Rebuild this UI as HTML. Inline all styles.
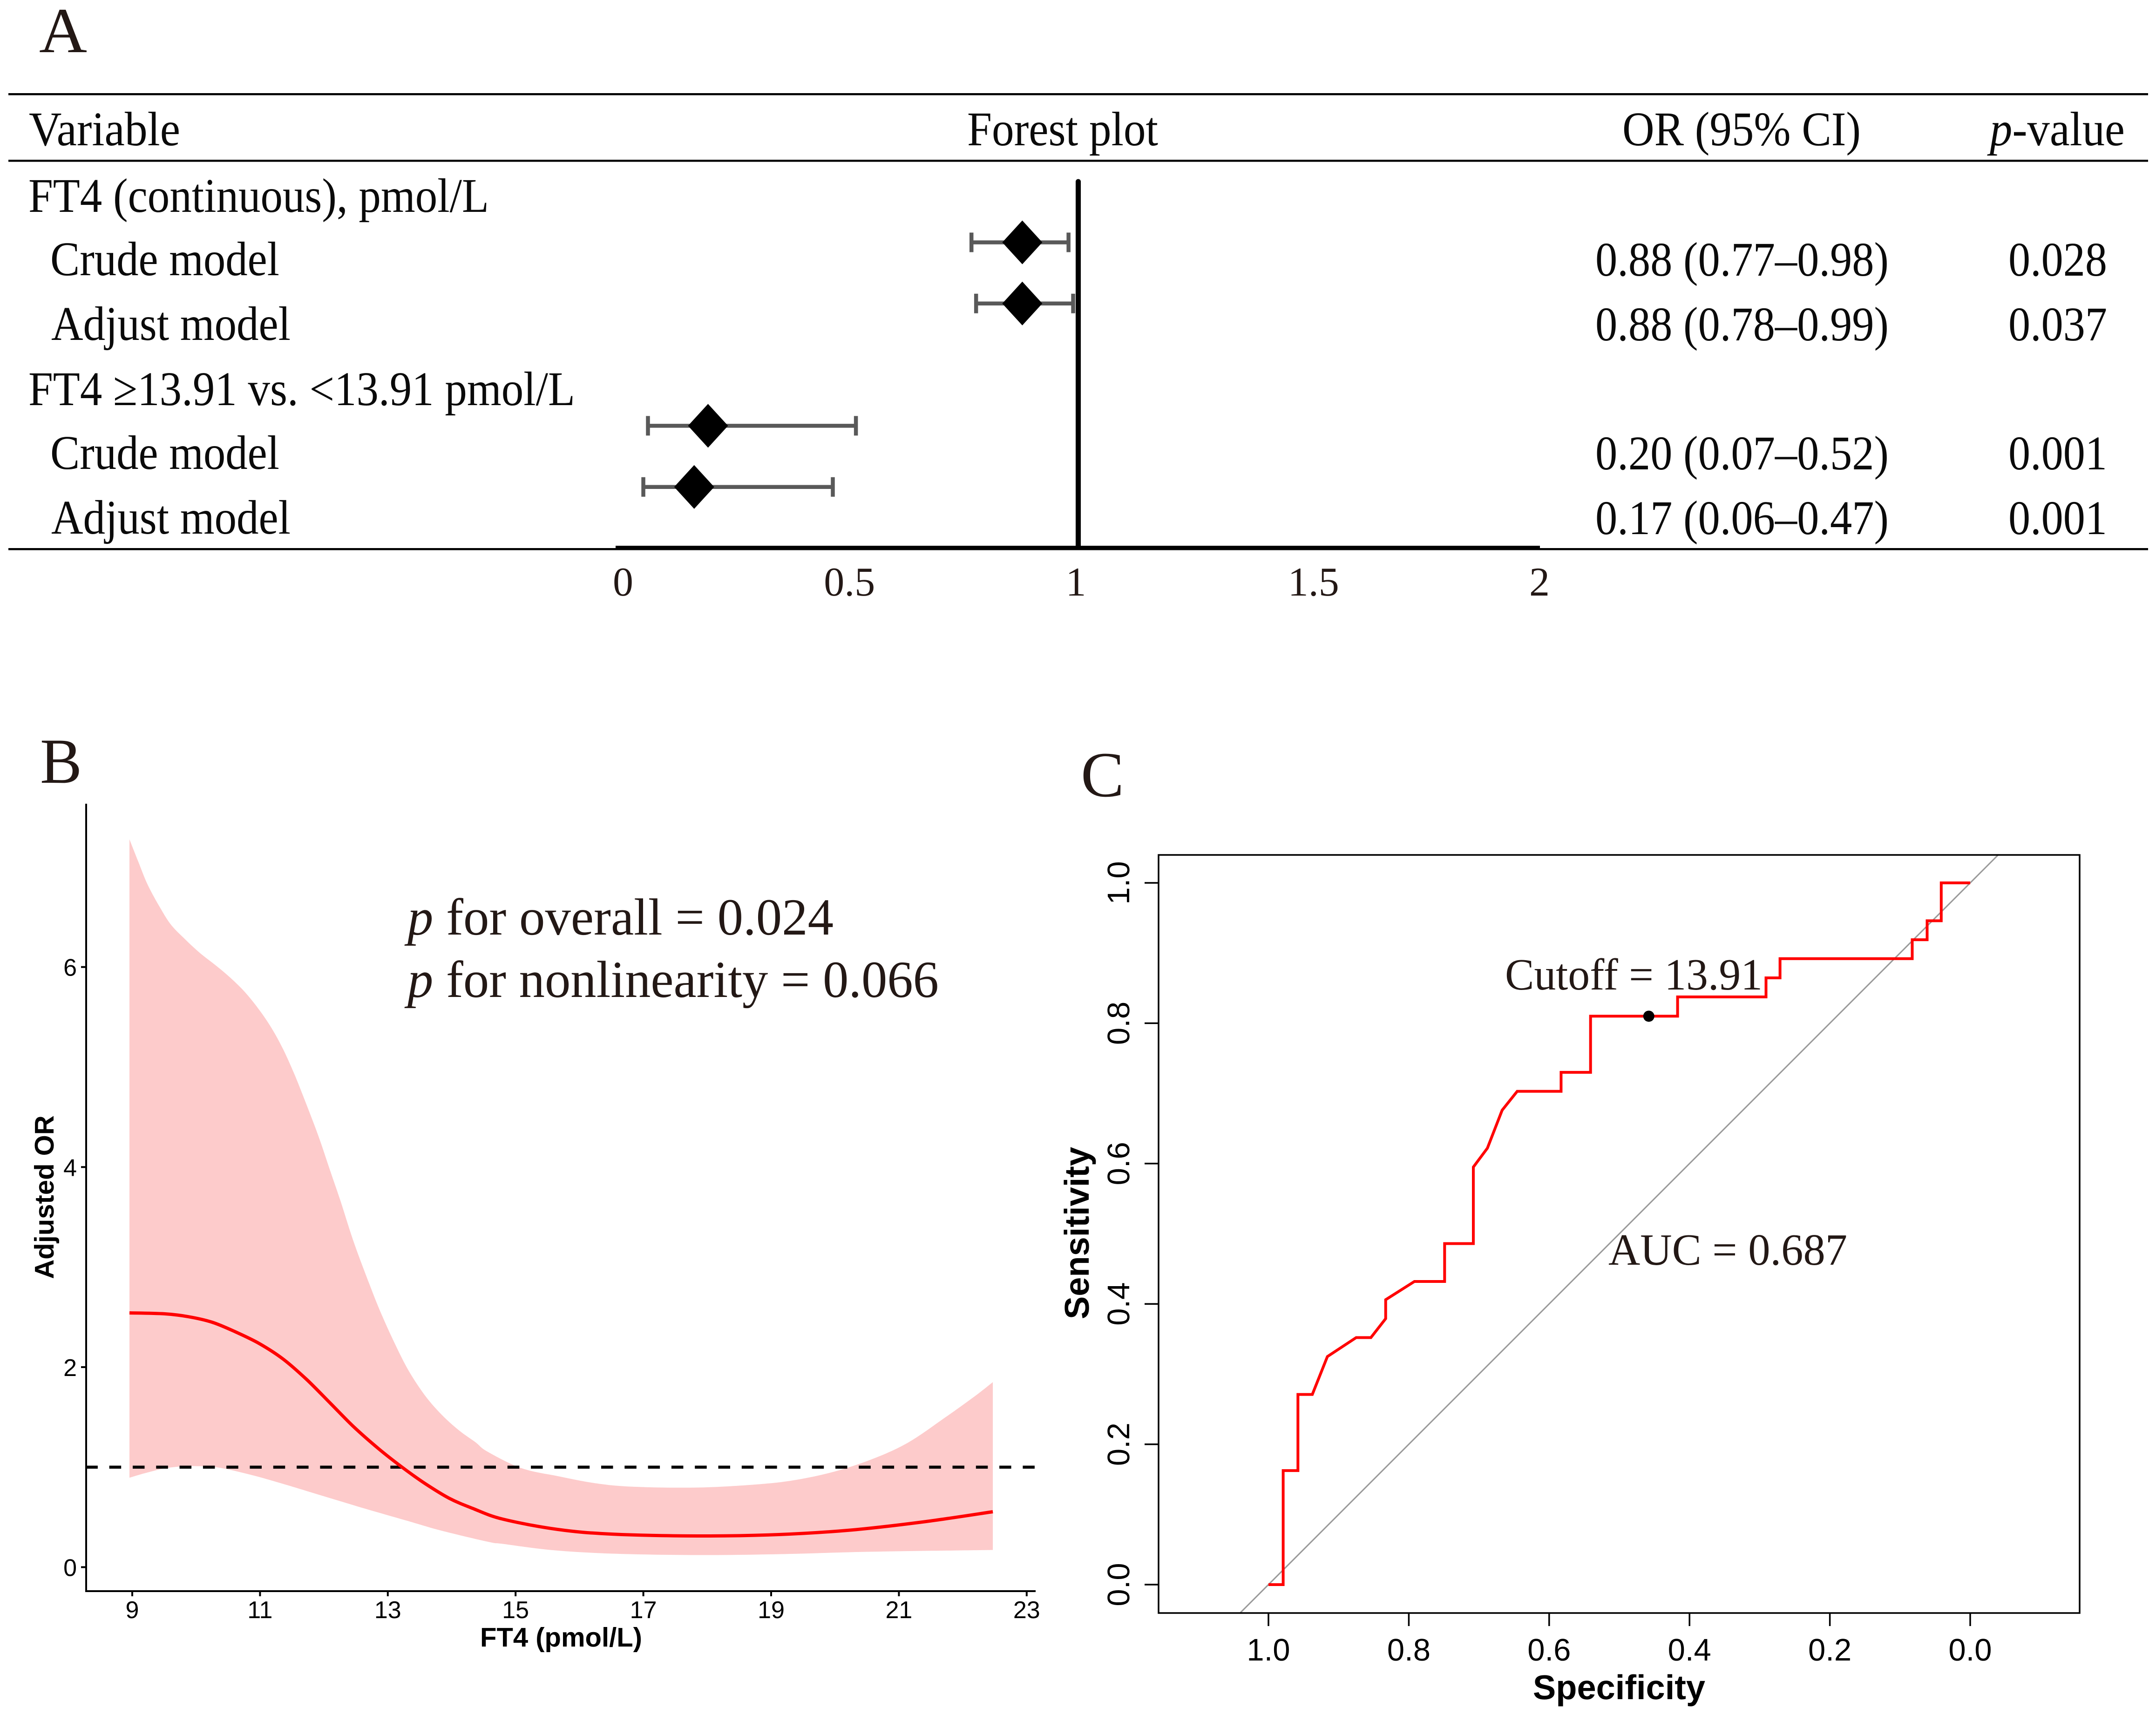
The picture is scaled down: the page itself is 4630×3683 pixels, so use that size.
<!DOCTYPE html>
<html><head><meta charset="utf-8"><title>FT4 forest plot, spline and ROC curve</title>
<style>
html,body{margin:0;padding:0;background:#fff}
svg{display:block}
text{font-family:"Liberation Serif",serif;fill:#000;text-rendering:geometricPrecision}
.t{font-size:104px;fill:#0a0a0a}
.s{font-family:"Liberation Sans",sans-serif}
.lab{font-size:138px;fill:#231815}
.ann{font-size:112px;fill:#231815}
.ann2{font-size:96px;fill:#231815}
</style></head>
<body>
<svg id="chart" xmlns="http://www.w3.org/2000/svg" width="4630" height="3683" viewBox="0 0 4630 3683">
<rect width="4630" height="3683" fill="#fff"/>
<text class="lab" x="84" y="112" textLength="103" lengthAdjust="spacingAndGlyphs">A</text>
<text class="lab" x="86" y="1681" textLength="90" lengthAdjust="spacingAndGlyphs">B</text>
<text class="lab" x="2321" y="1710" textLength="93" lengthAdjust="spacingAndGlyphs">C</text>

<g id="panelA">
<rect x="18" y="200" width="4595" height="4.5" fill="#000"/>
<rect x="18" y="343" width="4595" height="4.5" fill="#000"/>
<rect x="18" y="1177" width="4595" height="4.5" fill="#000"/>
<text class="t" x="62" y="312" textLength="325" lengthAdjust="spacingAndGlyphs">Variable</text>
<text class="t" x="2077" y="312" textLength="410" lengthAdjust="spacingAndGlyphs">Forest plot</text>
<text class="t" x="3484" y="312" textLength="512" lengthAdjust="spacingAndGlyphs">OR (95% CI)</text>
<text class="t" x="4273" y="312" textLength="290" lengthAdjust="spacingAndGlyphs"><tspan font-style="italic">p</tspan>-value</text>
<text class="t" x="61" y="455" textLength="989" lengthAdjust="spacingAndGlyphs">FT4 (continuous), pmol/L</text>
<text class="t" x="108" y="591" textLength="492" lengthAdjust="spacingAndGlyphs">Crude model</text>
<text class="t" x="110" y="730" textLength="514" lengthAdjust="spacingAndGlyphs">Adjust model</text>
<text class="t" x="61" y="870" textLength="1174" lengthAdjust="spacingAndGlyphs">FT4 ≥13.91 vs. &lt;13.91 pmol/L</text>
<text class="t" x="108" y="1007" textLength="492" lengthAdjust="spacingAndGlyphs">Crude model</text>
<text class="t" x="110" y="1146" textLength="514" lengthAdjust="spacingAndGlyphs">Adjust model</text>
<text class="t" x="3426" y="592" textLength="630" lengthAdjust="spacingAndGlyphs">0.88 (0.77–0.98)</text>
<text class="t" x="3426" y="731" textLength="630" lengthAdjust="spacingAndGlyphs">0.88 (0.78–0.99)</text>
<text class="t" x="3426" y="1008" textLength="630" lengthAdjust="spacingAndGlyphs">0.20 (0.07–0.52)</text>
<text class="t" x="3426" y="1147" textLength="630" lengthAdjust="spacingAndGlyphs">0.17 (0.06–0.47)</text>
<text class="t" x="4313" y="592" textLength="212" lengthAdjust="spacingAndGlyphs">0.028</text>
<text class="t" x="4313" y="731" textLength="212" lengthAdjust="spacingAndGlyphs">0.037</text>
<text class="t" x="4313" y="1008" textLength="212" lengthAdjust="spacingAndGlyphs">0.001</text>
<text class="t" x="4313" y="1147" textLength="212" lengthAdjust="spacingAndGlyphs">0.001</text>
</g>
<g id="panelB">
<text class="ann" x="875" y="2007" textLength="915" lengthAdjust="spacingAndGlyphs"><tspan font-style="italic">p</tspan> for overall = 0.024</text>
<text class="ann" x="875" y="2141" textLength="1141" lengthAdjust="spacingAndGlyphs"><tspan font-style="italic">p</tspan> for nonlinearity = 0.066</text>
</g>
<g id="panelC">
<text class="ann2" x="3232" y="2125" textLength="553" lengthAdjust="spacingAndGlyphs">Cutoff = 13.91</text>
<text class="ann2" x="3454" y="2716" textLength="513" lengthAdjust="spacingAndGlyphs">AUC = 0.687</text>
</g>
</svg>
<script>
// Panel A data
const forestNames = ['crude-continuous','adjust-continuous','crude-binary','adjust-binary'];
const forestRows = [1,2,4,5];
const forestOR = [0.88,0.88,0.20,0.17];
const forestLow = [0.77,0.78,0.07,0.06];
const forestHigh = [0.98,0.99,0.52,0.47];
const forestTicks = [0,0.5,1,1.5,2];
const forestTickLabels = ['0','0.5','1','1.5','2'];
// Panel B data
const upperFt4 = [8.956,9.095,9.24,9.43,9.61,9.84,10.06,10.32,10.54,10.77,10.99,11.18,11.36,11.55,11.73,11.92,12.10,12.26,12.47,12.70,12.88,13.11,13.33,13.59,13.85,14.11,14.37,14.56,15.09,15.66,16.24,16.82,17.85,18.83,19.41,19.98,20.56,21.13,21.71,22.17,22.47];
const upperOR = [7.277,7.053,6.825,6.60,6.42,6.27,6.14,6.01,5.89,5.745,5.57,5.39,5.18,4.91,4.62,4.30,3.96,3.66,3.245,2.85,2.56,2.235,1.96,1.71,1.52,1.37,1.25,1.155,0.99,0.91,0.84,0.805,0.796,0.83,0.875,0.954,1.075,1.24,1.49,1.70,1.85];
const lowerFt4 = [8.956,9.20,9.50,9.76,10.02,10.35,10.84,11.36,12.03,12.66,13.29,13.85,14.59,14.80,15.55,16.52,17.85,19.12,20.56,22.47];
const lowerOR = [0.894,0.94,0.987,1.006,1.01,0.996,0.926,0.833,0.703,0.582,0.466,0.363,0.251,0.233,0.172,0.135,0.121,0.13,0.154,0.172];
const midFt4 = [8.956,9.50,9.87,10.25,10.62,10.99,11.36,11.73,12.10,12.47,12.85,13.22,13.59,13.96,14.33,14.80,15.66,16.52,17.85,19.12,20.27,21.42,22.47];
const midOR = [2.542,2.533,2.505,2.449,2.351,2.235,2.081,1.876,1.639,1.401,1.187,1.001,0.833,0.689,0.587,0.48,0.377,0.33,0.312,0.326,0.372,0.456,0.554];
const refOR = 1;
const bXTicks = [9,11,13,15,17,19,21,23];
const bYTicks = [0,2,4,6];
// Panel C data
const rocSpec = [1,0.979,0.979,0.958,0.958,0.9375,0.916,0.875,0.854,0.833,0.833,0.792,0.749,0.749,0.708,0.708,0.688,0.667,0.6455,0.583,0.583,0.541,0.541,0.417,0.417,0.291,0.291,0.271,0.271,0.0826,0.0826,0.0614,0.0614,0.0413,0.0413,0];
const rocSens = [0,0,0.1625,0.1625,0.271,0.271,0.325,0.352,0.352,0.379,0.406,0.432,0.432,0.486,0.486,0.595,0.622,0.676,0.703,0.703,0.73,0.73,0.81,0.81,0.8375,0.8375,0.8646,0.8646,0.892,0.892,0.919,0.919,0.946,0.946,1,1];
const cutoffSpec = 0.458;
const cutoffSens = 0.81;
const cTicks = [0,0.2,0.4,0.6,0.8,1];
const cTickLabels = ['0.0','0.2','0.4','0.6','0.8','1.0'];

const NS='http://www.w3.org/2000/svg';
function mk(parent,tag,attrs,txt){
  const e=document.createElementNS(NS,tag);
  for(const k in attrs)e.setAttribute(k,attrs[k]);
  if(txt!==undefined)e.textContent=txt;
  parent.appendChild(e);
  return e;
}
const fx=v=>1322+v*992.5;
const rowY=r=>389.2+r*131.3;
const bx=f=>284+(f-9)*137.2;
const by=v=>3365.5-214.8*v;
const cx=s=>4231-s*1507;
const cy=s=>3403-s*1507;
function smooth(pts){
  let d='M'+pts[0][0].toFixed(1)+' '+pts[0][1].toFixed(1);
  for(let i=0;i<pts.length-1;i++){
    const p0=pts[Math.max(i-1,0)],p1=pts[i],p2=pts[i+1],p3=pts[Math.min(i+2,pts.length-1)];
    const c1=[p1[0]+(p2[0]-p0[0])/6,p1[1]+(p2[1]-p0[1])/6],c2=[p2[0]-(p3[0]-p1[0])/6,p2[1]-(p3[1]-p1[1])/6];
    d+='C'+c1[0].toFixed(1)+' '+c1[1].toFixed(1)+' '+c2[0].toFixed(1)+' '+c2[1].toFixed(1)+' '+p2[0].toFixed(1)+' '+p2[1].toFixed(1);
  }
  return d;
}
let el;
// ---------- Panel A ----------
const A=document.getElementById('panelA');
el=mk(A,'rect',{x:fx(0),y:1172,width:fx(2)-fx(0),height:8,fill:'#000'});


el=mk(A,'line',{x1:fx(1)+1,x2:fx(1)+1,y1:390,y2:1176,stroke:'#000','stroke-width':11,'stroke-linecap':'round'});


forestOR.forEach((or,i)=>{
  const y=rowY(forestRows[i]);
  const g=mk(A,'g',{});
  
  
  el=mk(g,'line',{x1:fx(forestLow[i]),x2:fx(forestHigh[i]),y1:y,y2:y,stroke:'#595959','stroke-width':8.5});
  
  
  [forestLow[i],forestHigh[i]].forEach(v=>{
    el=mk(g,'line',{x1:fx(v),x2:fx(v),y1:y-21,y2:y+21,stroke:'#595959','stroke-width':8.5});
    
    
  });
  const c=fx(or);
  el=mk(g,'polygon',{points:[[c,y-47],[c+43,y],[c,y+47],[c-43,y]].map(p=>p.join(',')).join(' '),fill:'#000'});
  
  
});
const forestNudge = v => v===0?16:(v===1?-4:(v===2?-1:(v===0.5?6:10)));
forestTicks.forEach((v,i)=>{
  el=mk(A,'text',{x:fx(v)+forestNudge(v),y:1279,'text-anchor':'middle','font-size':88,style:'fill:#231815'},forestTickLabels[i]);
  
  
});
// ---------- Panel B ----------
const B=document.getElementById('panelB');
const bandTop=upperFt4.map((f,i)=>[bx(f),by(upperOR[i])]);
const bandBot=lowerFt4.map((f,i)=>[bx(f),by(lowerOR[i])]).reverse();
const bandD=smooth(bandTop)+'L'+bandBot[0][0].toFixed(1)+' '+bandBot[0][1].toFixed(1)+smooth(bandBot).replace(/^M[^C]*/,'')+'Z';
el=mk(B,'path',{d:bandD,fill:'#fdcbcb'});
B.insertBefore(el,B.firstChild);


el=mk(B,'line',{x1:184.4,x2:2224,y1:by(refOR),y2:by(refOR),stroke:'#000','stroke-width':6.5,'stroke-dasharray':'25.5 24.8'});


el=mk(B,'path',{d:smooth(midFt4.map((f,i)=>[bx(f),by(midOR[i])])),fill:'none',stroke:'#f00','stroke-width':7});


el=mk(B,'line',{x1:185,x2:185,y1:1726,y2:3419,stroke:'#000','stroke-width':4});


el=mk(B,'line',{x1:183,x2:2224,y1:3417,y2:3417,stroke:'#000','stroke-width':4});


bXTicks.forEach(v=>{
  el=mk(B,'line',{x1:bx(v),x2:bx(v),y1:3417,y2:3428,stroke:'#000','stroke-width':4});
  
  
  el=mk(B,'text',{class:'s',x:bx(v),y:3475,'text-anchor':'middle','font-size':52},String(v));
  
  
});
bYTicks.forEach(v=>{
  el=mk(B,'line',{x1:174,x2:185,y1:by(v),y2:by(v),stroke:'#000','stroke-width':4});
  
  
  el=mk(B,'text',{class:'s',x:165,y:by(v)+19,'text-anchor':'end','font-size':52},String(v));
  
  
});
el=mk(B,'text',{class:'s',x:1205,y:3536,'text-anchor':'middle','font-size':58,'font-weight':'bold'},'FT4 (pmol/L)');


el=mk(B,'text',{class:'s',transform:'translate(115 2571) rotate(-90)','text-anchor':'middle','font-size':58,'font-weight':'bold'},'Adjusted OR');


// ---------- Panel C ----------
const C=document.getElementById('panelC');
el=mk(C,'line',{x1:cx(1.0405),y1:cy(-0.0405),x2:cx(-0.0405),y2:cy(1.0405),stroke:'#9a9a9a','stroke-width':3});
C.insertBefore(el,C.firstChild);


el=mk(C,'rect',{x:2488,y:1836,width:1978,height:1628,fill:'none',stroke:'#000','stroke-width':3.5});


el=mk(C,'polyline',{points:rocSpec.map((s,i)=>cx(s).toFixed(1)+','+cy(rocSens[i]).toFixed(1)).join(' '),fill:'none',stroke:'#f00','stroke-width':6,'stroke-linejoin':'miter'});


el=mk(C,'circle',{cx:cx(cutoffSpec),cy:cy(cutoffSens),r:12,fill:'#000'});


cTicks.forEach((v,i)=>{
  el=mk(C,'line',{x1:cx(v),x2:cx(v),y1:3464,y2:3492,stroke:'#000','stroke-width':3.5});
  
  
  el=mk(C,'text',{class:'s',x:cx(v),y:3566,'text-anchor':'middle','font-size':67},cTickLabels[i]);
  
  
  el=mk(C,'line',{x1:2458,x2:2488,y1:cy(v),y2:cy(v),stroke:'#000','stroke-width':3.5});
  
  
  el=mk(C,'text',{class:'s',transform:'translate(2425 '+cy(v)+') rotate(-90)','text-anchor':'middle','font-size':67},cTickLabels[i]);
  
  
});
el=mk(C,'text',{class:'s',x:3477,y:3649,'text-anchor':'middle','font-size':74,'font-weight':'bold'},'Specificity');


el=mk(C,'text',{class:'s',transform:'translate(2338 2648) rotate(-90)','text-anchor':'middle','font-size':74,'font-weight':'bold'},'Sensitivity');


</script>
</body></html>
